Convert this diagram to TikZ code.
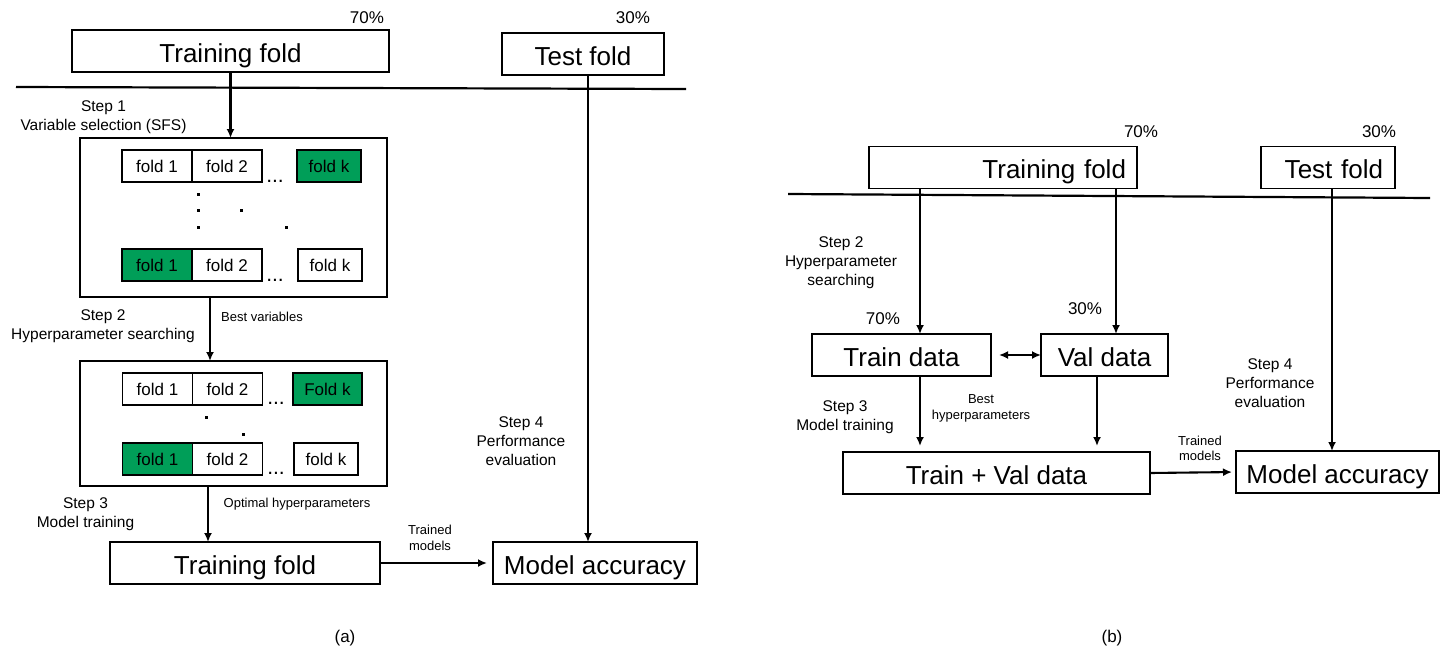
\documentclass[tikz,border=0pt]{standalone}
\usepackage{fontspec}
\setmainfont{Liberation Sans}
\usetikzlibrary{arrows.meta,positioning}
\definecolor{foldgreen}{RGB}{0,158,88}

\begin{document}
\begin{tikzpicture}
[x=1pt, y=-1pt,
base/.style={draw=black, line width=1.2pt, rectangle, inner sep=0pt, outer sep=0pt, text centered},
bigbox/.style={base, minimum height=42pt, text height=22pt, text depth=0pt, font=\fontsize{26}{31}\selectfont},
fold/.style={base, minimum width=70pt, minimum height=32pt, text height=13.5pt, text depth=0pt, font=\fontsize{17}{20}\selectfont},
held/.style={fold, fill=foldgreen},
pct/.style={font=\fontsize{17}{20}\selectfont},
gap/.style={font=\fontsize{21}{24}\selectfont},
steplabel/.style={align=center, font=\fontsize{15.5}{19}\selectfont},
note/.style={align=center, font=\fontsize{13}{15.5}\selectfont},
arrow/.style={line width=2.1pt, -{Latex[length=9pt,width=8pt]}},
sep/.style={line width=2.2pt},
]
    \useasboundingbox (0,0) rectangle (1443,651);

    % (a) split, variable selection and tuning
    \node (pctA1) [pct] at (367,18) {70\%};
    \node (pctA2) [pct] at (633,18) {30\%};
    \node (trainA) [bigbox, minimum width=317pt] at (230.5,51) {Training fold};
    \node (testA) [bigbox, minimum width=162pt] at (583,54) {Test fold};
    \draw[sep] (16,87) -- (686,89);

    \node (stepA1) [steplabel] at (103.5,117.5) {Step 1\\Variable selection (SFS)};
    \node (sfsbox) [base, minimum width=307pt, minimum height=159pt] at (233.5,217.5) {};
    \node (sfsA1) [fold] at (157,166) {fold 1};
    \node (sfsA2) [fold, right=0pt of sfsA1] {fold 2};
    \node (sfsAd) [gap, anchor=base] at (275,182) {...};
    \node (sfsAk) [held, minimum width=64pt] at (329,166) {fold k};
    \node (sfsB1) [held] at (157,265) {fold 1};
    \node (sfsB2) [fold, right=0pt of sfsB1] {fold 2};
    \node (sfsBd) [gap, anchor=base] at (275,281) {...};
    \node (sfsBk) [fold, minimum width=64pt] at (330,265) {fold k};
    \foreach \px/\py in {198/194, 198/210, 198/227, 241/210, 286/227}
        \fill (\px-1.5,\py-1.5) rectangle ++(3,3);

    \node (stepA2) [steplabel] at (103,326.5) {Step 2\\Hyperparameter searching};
    \node (bestvar) [note] at (262,317) {Best variables};
    \node (hpbox) [base, minimum width=307pt, minimum height=125pt] at (233.5,423.5) {};
    \node (hpA1) [fold] at (157.5,389) {fold 1};
    \node (hpA2) [fold, right=0pt of hpA1] {fold 2};
    \node (hpAd) [gap, anchor=base] at (276,404) {...};
    \node (hpAk) [held, minimum width=69pt] at (327.5,389) {Fold k};
    \node (hpB1) [held] at (157.5,459) {fold 1};
    \node (hpB2) [fold, right=0pt of hpB1] {fold 2};
    \node (hpBd) [gap, anchor=base] at (276,474) {...};
    \node (hpBk) [fold, minimum width=64pt] at (326,459) {fold k};
    \foreach \px/\py in {206/417, 243/434}
        \fill (\px-1.5,\py-1.5) rectangle ++(3,3);

    \node (stepA3) [steplabel] at (85.5,514.5) {Step 3\\Model training};
    \node (opthp) [note] at (297,504) {Optimal hyperparameters};
    \node (trainB) [bigbox, minimum width=270pt] at (245,563) {Training fold};
    \node (trainedA) [note] at (430,538) {Trained\\models};
    \node (accA) [bigbox, minimum width=204pt] at (595,563) {Model accuracy};
    \node (stepA4) [steplabel] at (521,441) {Step 4\\Performance\\evaluation};
    \node (capA) [pct] at (345,638) {(a)};

    \draw[arrow] (trainA.south) -- (trainA.south |- sfsbox.north);
    \draw[arrow] ([xshift=-23.5pt]sfsbox.south) -- ([xshift=-23.5pt]hpbox.north);
    \draw[arrow] ([xshift=-25.5pt]hpbox.south) -- ([xshift=-37pt]trainB.north);
    \draw[arrow, shorten >=6pt] (trainB.east) -- (accA.west);
    \draw[arrow] ([xshift=5pt]testA.south) -- ([xshift=-7pt]accA.north);

    % (b) hold-out validation
    \node (pctB1) [pct] at (1141,132) {70\%};
    \node (pctB2) [pct] at (1379,132) {30\%};
    \node (trainC) [bigbox, text width=246pt, align=right, inner xsep=11pt] at (1003,167.5) {Training fold};
    \node (testB) [bigbox, text width=110pt, align=right, inner xsep=12pt] at (1328,167.5) {Test fold};
    \draw[sep] (788,194) -- (1430,198);

    \node (stepB2) [steplabel] at (841,263) {Step 2\\Hyperparameter\\searching};
    \node (pctB3) [pct] at (883,319) {70\%};
    \node (pctB4) [pct] at (1085,309) {30\%};
    \node (trainD) [bigbox, minimum width=179pt] at (901.5,355) {Train data};
    \node (valD) [bigbox, minimum width=127pt] at (1104.5,355) {Val data};
    \node (stepB3) [steplabel] at (845,417.5) {Step 3\\Model training};
    \node (besthp) [note] at (981,408.5) {Best\\hyperparameters};
    \node (trainval) [bigbox, minimum width=307pt] at (996.5,473) {Train + Val data};
    \node (trainedB) [note] at (1200,448.5) {Trained\\models};
    \node (accB) [bigbox, minimum width=203pt] at (1337.5,472) {Model accuracy};
    \node (stepB4) [steplabel] at (1270,383) {Step 4\\Performance\\evaluation};
    \node (capB) [pct] at (1112,638) {(b)};

    \draw[arrow] ([xshift=-83pt]trainC.south) -- ([xshift=18.5pt]trainD.north);
    \draw[arrow] ([xshift=113pt]trainC.south) -- ([xshift=11.5pt]valD.north);
    \draw[arrow] ([xshift=4pt]testB.south) -- ([xshift=-5.5pt]accB.north);
    \draw[arrow, {Latex[length=9pt,width=8pt]}-{Latex[length=9pt,width=8pt]}] ([xshift=8pt]trainD.east) -- (valD.west);
    \draw[arrow, shorten >=6pt] ([xshift=18.5pt]trainD.south) -- ([xshift=-76.5pt]trainval.north);
    \draw[arrow, shorten >=6pt] ([xshift=-7.5pt]valD.south) -- ([xshift=100.5pt]trainval.north);
    \draw[arrow, shorten >=4pt] (trainval.east) -- (accB.west);
\end{tikzpicture}
\end{document}
